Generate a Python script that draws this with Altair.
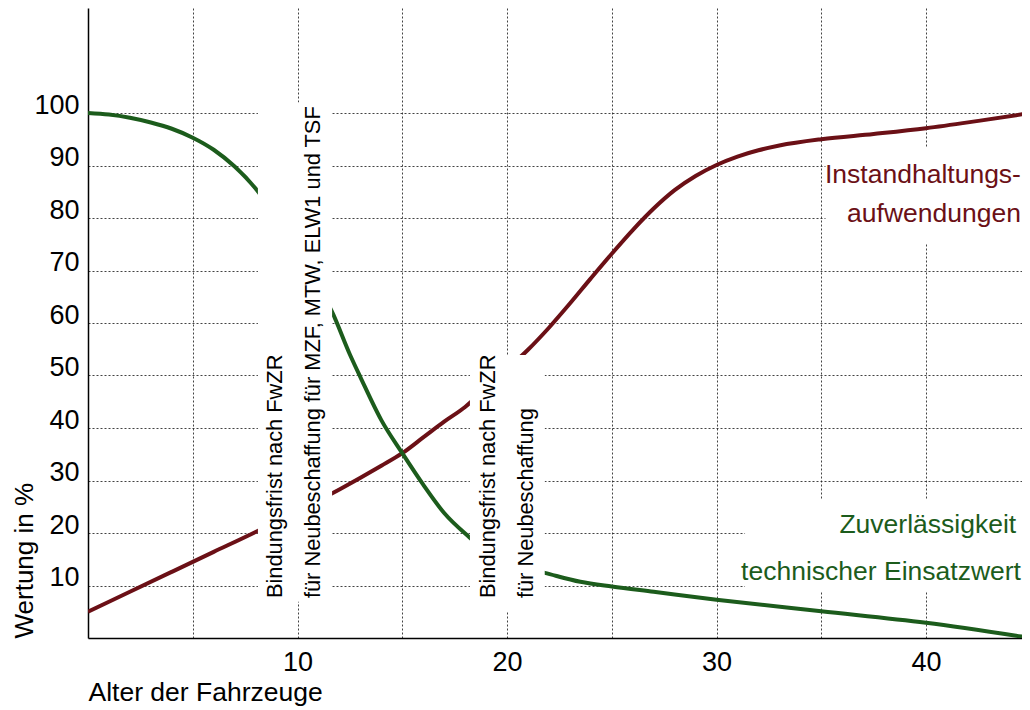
import altair as alt
import pandas as pd

FONT = "Liberation Sans"
RED = "#6b1016"
GREEN = "#1c5c1c"

# Instandhaltungsaufwendungen (red)
red_x = [0, 2, 4, 6, 8, 10, 12, 14, 15, 16, 17, 18, 19, 20, 21, 22, 23, 24, 25, 26, 27, 28, 29, 30, 31, 32, 33, 35, 37.5, 40, 42.5, 45]
red_y = [5, 8.8, 12.6, 16.4, 20.2, 24.2, 28.3, 32.8, 35.2, 38.2, 41.2, 44, 47.6, 51.2, 54.9, 59.1, 63.7, 68.5, 73.2, 77.7, 81.8, 85.3, 88, 90.1, 91.7, 92.9, 93.8, 95, 96, 97.1, 98.5, 100]

# Zuverlässigkeit / technischer Einsatzwert (green)
green_x = [0, 1, 2, 3, 4, 5, 6, 7, 8, 9, 10, 11, 11.65, 12.5, 13, 14, 15, 16, 17, 18.2, 19, 20, 21, 21.8, 23.5, 25, 27, 30, 35, 40, 45]
green_y = [100, 99.7, 99.1, 98.2, 97, 95.3, 93, 89.8, 85.6, 80, 74, 67, 62.1, 54, 49.7, 41.5, 35.2, 29.2, 23.8, 19.2, 16.5, 14.5, 13.2, 12.4, 10.7, 9.8, 8.8, 7.3, 5.1, 2.9, 0]

# white label boxes (data units)
box_x1 = [8.11, 18.23, 35.2, 31.36]
box_x2 = [11.65, 21.8, 45, 45]
box_y1 = [6.9, 5.0, 75.2, 8.8]
box_y2 = [102, 53.9, 93.5, 26.3]

# rotated annotations
rot_text = ["Bindungsfrist nach FwZR",
            "für Neubeschaffung für MZF, MTW, ELW1 und TSF",
            "Bindungsfrist nach FwZR",
            "für Neubeschaffung"]
rot_x = [9.26, 11.07, 19.43, 21.24]
rot_y = [7.6, 7.6, 7.6, 7.6]

# series labels
lab_text = ["Instandhaltungs-", "aufwendungen", "Zuverlässigkeit", "technischer Einsatzwert"]
lab_x = [44.53, 44.53, 44.3, 44.53]
lab_y = [86.7, 79.2, 20.0, 11.05]
lab_series = ["red", "red", "green", "green"]

x_ticks = [5, 10, 15, 20, 25, 30, 35, 40]
y_ticks = [10, 20, 30, 40, 50, 60, 70, 80, 90, 100]

XMAX = 44.58
xs = alt.Scale(domain=[0, XMAX], nice=False, zero=False)
ys = alt.Scale(domain=[0, 120], nice=False)

x_axis = alt.Axis(
    values=x_ticks, grid=True, ticks=False, tickSize=0,
    labelExpr="datum.value % 10 == 0 ? datum.label : ''",
    labelOverlap=False, labelFlush=False,
    labelFont=FONT, labelFontSize=27, labelColor="black",
    labelPadding=32, labelBaseline="alphabetic",
    domainColor="black", domainWidth=1.5,
    gridColor="#222", gridDash=[2, 2], gridWidth=1, gridOpacity=0.85,
    title="Alter der Fahrzeuge", titleFont=FONT, titleFontSize=26.5,
    titleFontWeight="normal", titleColor="black",
    titleX=0, titleY=62, titleAlign="left", titleBaseline="alphabetic",
    titleAnchor="start")
y_axis = alt.Axis(
    values=y_ticks, grid=True, ticks=False, tickSize=0,
    labelOverlap=False, labelFlush=False,
    labelFont=FONT, labelFontSize=27, labelColor="black",
    labelPadding=9, labelBaseline="alphabetic",
    domainColor="black", domainWidth=1.5,
    gridColor="#222", gridDash=[2, 2], gridWidth=1, gridOpacity=0.85,
    title="Wertung in %", titleFont=FONT, titleFontSize=26,
    titleFontWeight="normal", titleColor="black",
    titleAngle=270, titleX=-56, titleY=630, titleAlign="left",
    titleBaseline="alphabetic")

lines_df = pd.DataFrame(
    {"x": red_x + green_x,
     "y": red_y + green_y,
     "s": ["red"] * len(red_x) + ["green"] * len(green_x)}
)

color_scale = alt.Scale(domain=["red", "green"], range=[RED, GREEN])

lines = alt.Chart(lines_df).mark_line(strokeWidth=4, clip=True, interpolate="monotone").encode(
    x=alt.X("x:Q", scale=xs, axis=x_axis, title="Alter der Fahrzeuge"),
    y=alt.Y("y:Q", scale=ys, axis=y_axis, title="Wertung in %"),
    color=alt.Color("s:N", scale=color_scale, legend=None),
    detail="s:N",
)

boxes_df = pd.DataFrame({"x": box_x1, "x2": box_x2, "y": box_y1, "y2": box_y2})
boxes = alt.Chart(boxes_df).mark_rect(color="white", clip=True).encode(
    x=alt.X("x:Q", title="Alter der Fahrzeuge"),
    x2="x2:Q",
    y=alt.Y("y:Q", title="Wertung in %"),
    y2="y2:Q",
)

rot_df = pd.DataFrame({"t": rot_text, "x": rot_x, "y": rot_y})
rot = alt.Chart(rot_df).mark_text(
    angle=270, align="left", baseline="alphabetic",
    font=FONT, fontSize=21.8, color="black"
).encode(
    x=alt.X("x:Q", title="Alter der Fahrzeuge"),
    y=alt.Y("y:Q", title="Wertung in %"),
    text="t:N",
)

lab_df = pd.DataFrame({"t": lab_text, "x": lab_x, "y": lab_y, "s": lab_series})
labs = alt.Chart(lab_df).mark_text(
    align="right", baseline="alphabetic", font=FONT, fontSize=26.5
).encode(
    x=alt.X("x:Q", title="Alter der Fahrzeuge"),
    y=alt.Y("y:Q", title="Wertung in %"),
    text="t:N",
    color=alt.Color("s:N", scale=color_scale, legend=None),
)

chart = alt.layer(lines, boxes, rot, labs).properties(
    width=934, height=630,
    autosize=alt.AutoSizeParams(type="none"),
    padding={"left": 80, "top": 0, "right": 0, "bottom": 72},
    background="white",
).configure_view(stroke=None)

chart.save("out.html", embed_options={"renderer": "svg", "actions": False})
